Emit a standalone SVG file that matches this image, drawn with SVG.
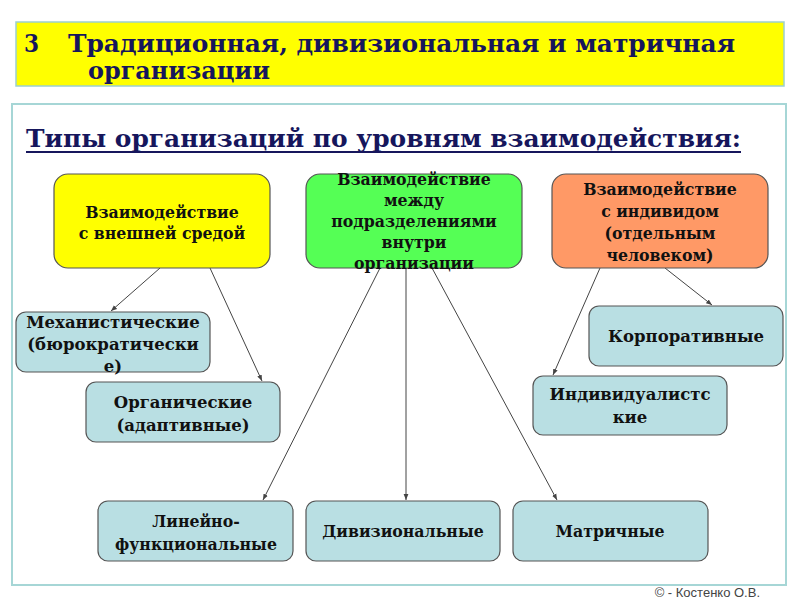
<svg xmlns="http://www.w3.org/2000/svg" width="800" height="600" viewBox="0 0 800 600">
<defs>
<style>
.title{font-family:"DejaVu Serif Condensed","DejaVu Serif",serif;font-weight:bold;font-stretch:condensed;fill:#16165c;font-size:24px}
.top{font-family:"DejaVu Serif Condensed","DejaVu Serif",serif;font-weight:bold;font-stretch:condensed;fill:#111;font-size:17.5px;text-anchor:middle}
.low{font-family:"DejaVu Serif","Liberation Serif",serif;font-weight:bold;fill:#111;font-size:16.5px;text-anchor:middle}
.node{stroke:#555;stroke-width:1.2}
.leaf{fill:#b9dfe3;stroke:#555;stroke-width:1.2}
.conn{stroke:#444;stroke-width:1;fill:none;marker-end:url(#ah)}
</style>
<marker id="ah" viewBox="0 0 10 10" refX="10" refY="5" markerWidth="6" markerHeight="6" orient="auto" markerUnits="userSpaceOnUse">
<path d="M0,1 L10,5 L0,9 z" fill="#444"/>
</marker>
</defs>
<rect width="800" height="600" fill="#fff"/>
<g id="header">
<rect x="16" y="22" width="768" height="64" fill="#ffff00" stroke="#9ccfd0" stroke-width="1.5"/>
<text class="title" y="52"><tspan x="24">3</tspan><tspan x="68" textLength="667" lengthAdjust="spacingAndGlyphs">Традиционная, дивизиональная и матричная</tspan></text>
<text class="title" x="88" y="79" textLength="182" lengthAdjust="spacingAndGlyphs">организации</text>
</g>
<rect x="12" y="104" width="774" height="481" fill="#fff" stroke="#a6d6d6" stroke-width="2"/>
<g id="subtitle">
<text class="title" x="26" y="147" textLength="715" lengthAdjust="spacingAndGlyphs">Типы организаций по уровням взаимодействия:</text>
<line x1="26" y1="152" x2="741" y2="152" stroke="#16165c" stroke-width="2"/>
</g>
<g id="connectors">
<line class="conn" x1="160" y1="268" x2="111" y2="311"/>
<line class="conn" x1="210" y1="268" x2="262" y2="381"/>
<line class="conn" x1="380" y1="268" x2="263" y2="500"/>
<line class="conn" x1="406" y1="268" x2="406" y2="500"/>
<line class="conn" x1="432" y1="268" x2="557" y2="500"/>
<line class="conn" x1="600" y1="268" x2="553" y2="375"/>
<line class="conn" x1="665" y1="268" x2="712" y2="305"/>
</g>
<g id="n-external">
<rect class="node" x="54" y="174" width="216" height="94" rx="14" fill="#ffff00"/>
<text class="top" x="162" y="218">Взаимодействие</text>
<text class="top" x="162" y="239">с внешней средой</text>
</g>
<g id="n-internal">
<rect class="node" x="306" y="174" width="216" height="94" rx="14" fill="#55ff55"/>
<text class="top" x="414" y="185">Взаимодействие</text>
<text class="top" x="414" y="206">между</text>
<text class="top" x="414" y="227">подразделениями</text>
<text class="top" x="414" y="248">внутри</text>
<text class="top" x="414" y="269">организации</text>
</g>
<g id="n-individual">
<rect class="node" x="552" y="174" width="216" height="94" rx="14" fill="#ff9966"/>
<text class="top" x="660" y="195">Взаимодействие</text>
<text class="top" x="660" y="217">с индивидом</text>
<text class="top" x="660" y="239">(отдельным</text>
<text class="top" x="660" y="261">человеком)</text>
</g>
<g id="n-mech">
<rect class="leaf" x="16" y="312" width="194" height="60" rx="10"/>
<text class="low" x="113" y="328">Механистические</text>
<text class="low" x="113" y="350">(бюрократически</text>
<text class="low" x="113" y="372">е)</text>
</g>
<g id="n-org">
<rect class="leaf" x="86" y="382" width="194" height="60" rx="10"/>
<text class="low" x="183" y="408">Органические</text>
<text class="low" x="183" y="431">(адаптивные)</text>
</g>
<g id="n-corp">
<rect class="leaf" x="589" y="306" width="194" height="60" rx="10"/>
<text class="low" x="686" y="342">Корпоративные</text>
</g>
<g id="n-indiv">
<rect class="leaf" x="533" y="376" width="194" height="59" rx="10"/>
<text class="low" x="630" y="400">Индивидуалистс</text>
<text class="low" x="630" y="423">кие</text>
</g>
<g id="n-linear">
<rect class="leaf" x="98" y="501" width="195" height="60" rx="10"/>
<text class="top" x="196" y="527">Линейно-</text>
<text class="top" x="196" y="550">функциональные</text>
</g>
<g id="n-div">
<rect class="leaf" x="306" y="501" width="194" height="60" rx="10"/>
<text class="top" x="403" y="537">Дивизиональные</text>
</g>
<g id="n-matrix">
<rect class="leaf" x="513" y="501" width="195" height="60" rx="10"/>
<text class="top" x="610" y="537">Матричные</text>
</g>
<text x="760" y="597" text-anchor="end" font-family="'Liberation Sans Narrow','Liberation Sans',Arial,sans-serif" font-size="13" fill="#444">© - Костенко О.В.</text>
</svg>
